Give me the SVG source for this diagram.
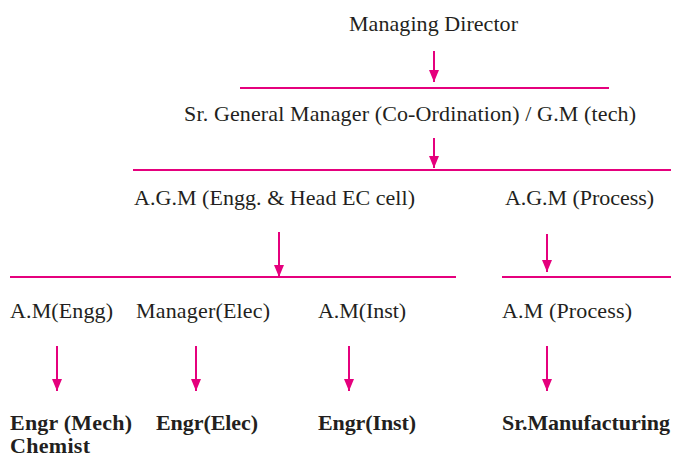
<svg xmlns="http://www.w3.org/2000/svg" width="675" height="458" viewBox="0 0 675 458">
<defs>
<marker id="ah" viewBox="0 0 12 10" refX="12" refY="5" markerWidth="12" markerHeight="10" markerUnits="userSpaceOnUse" orient="auto">
<path d="M0,0 L12,5 L0,10 Z" fill="#e5007d"/>
</marker>
</defs>
<style>
.t{font-family:"Liberation Serif","Times New Roman",serif;font-size:22px;fill:#231f20}
.b{font-weight:bold}
.ln{stroke:#e5007d;stroke-width:2;fill:none}
.ar{stroke:#e5007d;stroke-width:2;fill:none;marker-end:url(#ah)}
</style>
<rect width="675" height="458" fill="#fff"/>
<g id="connectors">
<line class="ar" x1="434" y1="51" x2="434" y2="82"/>
<line class="ln" x1="240" y1="88" x2="609" y2="88"/>
<line class="ar" x1="434" y1="138" x2="434" y2="168"/>
<line class="ln" x1="133" y1="170" x2="671" y2="170"/>
<line class="ar" x1="279" y1="232" x2="279" y2="277"/>
<line class="ln" x1="10" y1="277" x2="456" y2="277"/>
<line class="ar" x1="547" y1="234" x2="547" y2="272"/>
<line class="ln" x1="502" y1="277" x2="671" y2="277"/>
<line class="ar" x1="57" y1="346" x2="57" y2="391"/>
<line class="ar" x1="196" y1="346" x2="196" y2="391"/>
<line class="ar" x1="349" y1="346" x2="349" y2="391"/>
<line class="ar" x1="547" y1="346" x2="547" y2="391"/>
</g>
<g id="md"><text class="t" x="349" y="31" textLength="169">Managing Director</text></g>
<g id="sgm"><text class="t" x="184" y="121" textLength="452">Sr. General Manager (Co-Ordination) / G.M (tech)</text></g>
<g id="agm-engg"><text class="t" x="134" y="205" textLength="281">A.G.M (Engg. &amp; Head EC cell)</text></g>
<g id="agm-process"><text class="t" x="505" y="205" textLength="149">A.G.M (Process)</text></g>
<g id="am-engg"><text class="t" x="10" y="318" textLength="103">A.M(Engg)</text></g>
<g id="mgr-elec"><text class="t" x="136" y="318" textLength="134">Manager(Elec)</text></g>
<g id="am-inst"><text class="t" x="318" y="318" textLength="88">A.M(Inst)</text></g>
<g id="am-process"><text class="t" x="502" y="318" textLength="130">A.M (Process)</text></g>
<g id="engr-mech"><text class="t b" x="10" y="430" textLength="122">Engr (Mech)</text><text class="t b" x="10" y="453" textLength="80">Chemist</text></g>
<g id="engr-elec"><text class="t b" x="156" y="430" textLength="102">Engr(Elec)</text></g>
<g id="engr-inst"><text class="t b" x="318" y="430" textLength="98">Engr(Inst)</text></g>
<g id="sr-mfg"><text class="t b" x="502" y="430" textLength="168">Sr.Manufacturing</text></g>
</svg>
